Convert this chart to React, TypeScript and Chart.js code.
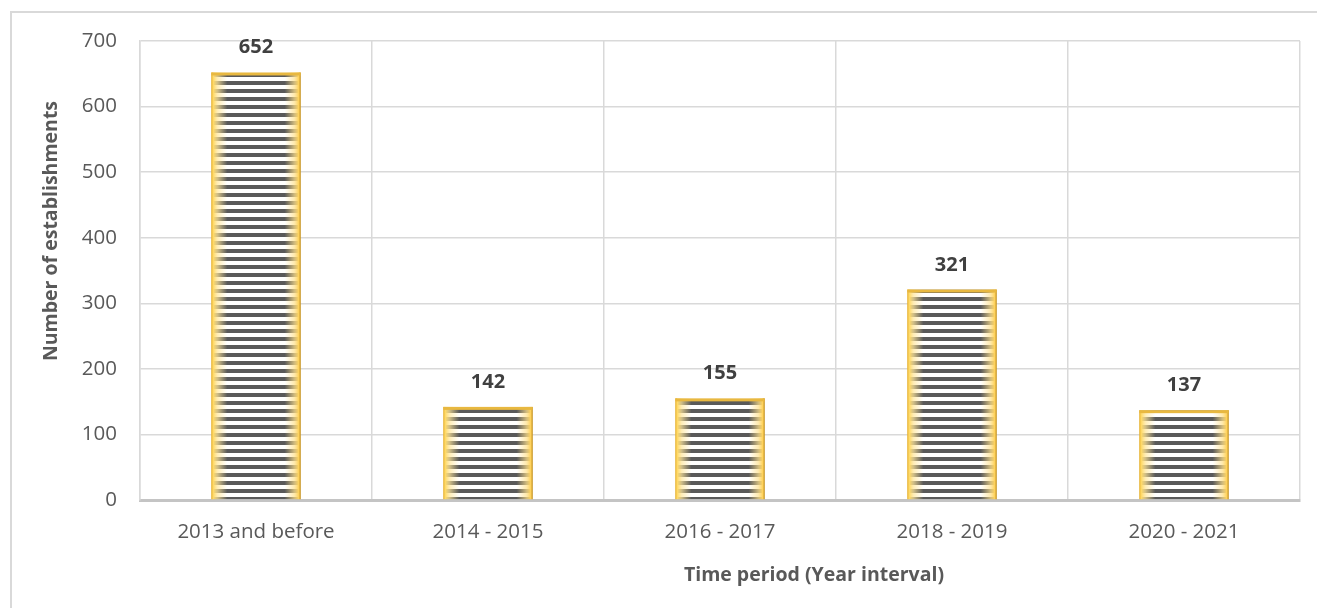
import React, { useEffect, useRef } from "react";
import { Chart, registerables } from "chart.js";

Chart.register(...registerables);

const periods = ["2013 and before", "2014 - 2015", "2016 - 2017", "2018 - 2019", "2020 - 2021"];
const establishments = [652, 142, 155, 321, 137];
const yTicks = [0, 100, 200, 300, 400, 500, 600, 700];
const xTitle = "Time period (Year interval)";
const yTitle = "Number of establishments";

const FONT = "'Open Sans', sans-serif";

function stripePattern(): CanvasPattern | string {
  const c = document.createElement("canvas");
  c.width = 8;
  c.height = 8;
  const ctx = c.getContext("2d");
  if (!ctx) return "#595959";
  ctx.fillStyle = "#ffffff";
  ctx.fillRect(0, 0, 8, 8);
  ctx.fillStyle = "#595959";
  ctx.fillRect(0, 1, 8, 4);
  return ctx.createPattern(c, "repeat") || "#595959";
}

// gold glow on bar sides, value labels, axis titles
const decorPlugin = {
  id: "decor",
  afterDatasetsDraw(chart: any) {
    const ctx = chart.ctx;
    const meta = chart.getDatasetMeta(0);
    meta.data.forEach((bar: any, i: number) => {
      const { x, y, base, width } = bar.getProps(["x", "y", "base", "width"], true);
      const l = x - width / 2;
      const r = x + width / 2;
      const h = base - y;
      const gw = 16;
      const gl = ctx.createLinearGradient(l, 0, l + gw, 0);
      gl.addColorStop(0, "rgba(230,178,50,1)");
      gl.addColorStop(0.12, "rgba(255,217,102,1)");
      gl.addColorStop(0.4, "rgba(255,230,153,0.7)");
      gl.addColorStop(1, "rgba(255,230,153,0)");
      ctx.fillStyle = gl;
      ctx.fillRect(l, y, gw, h);
      const gr = ctx.createLinearGradient(r, 0, r - gw, 0);
      gr.addColorStop(0, "rgba(190,140,30,1)");
      gr.addColorStop(0.12, "rgba(255,210,90,1)");
      gr.addColorStop(0.4, "rgba(255,225,140,0.7)");
      gr.addColorStop(1, "rgba(255,225,140,0)");
      ctx.fillStyle = gr;
      ctx.fillRect(r - gw, y, gw, h);
      ctx.fillStyle = "#e8b840";
      ctx.fillRect(l, y, width, 3);

      ctx.save();
      ctx.font = `bold 20px ${FONT}`;
      ctx.fillStyle = "#404040";
      ctx.textAlign = "center";
      ctx.textBaseline = "alphabetic";
      ctx.fillText(String(establishments[i]), x, y - 19);
      ctx.restore();
    });

    const area = chart.chartArea;
    ctx.save();
    ctx.font = `bold 19.5px ${FONT}`;
    ctx.fillStyle = "#595959";
    ctx.textAlign = "center";
    ctx.textBaseline = "alphabetic";
    ctx.fillText(xTitle, area.left + area.width * 0.581, area.bottom + 81);
    ctx.translate(57, area.top + area.height * 0.414);
    ctx.rotate(-Math.PI / 2);
    ctx.fillText(yTitle, 0, 0);
    ctx.restore();
  },
};

export default function App() {
  const canvasRef = useRef<HTMLCanvasElement | null>(null);

  useEffect(() => {
    if (!canvasRef.current) return;
    const chart = new Chart(canvasRef.current, {
      type: "bar",
      data: {
        labels: periods,
        datasets: [
          {
            data: establishments,
            backgroundColor: stripePattern() as any,
            borderColor: "#e8b840",
            borderWidth: { top: 0, left: 2, right: 2, bottom: 0 },
            borderSkipped: false,
            categoryPercentage: 1,
            barPercentage: 0.385,
          },
        ],
      },
      options: {
        animation: false,
        responsive: true,
        maintainAspectRatio: false,
        layout: { padding: { top: 41, right: 17, bottom: 0, left: 0 } },
        plugins: { legend: { display: false }, tooltip: { enabled: false } },
        scales: {
          x: {
            grid: { color: "#d9d9d9", lineWidth: 1.5, drawTicks: false, offset: true },
            border: { color: "#c4c4c4", width: 3 },
            ticks: { color: "#595959", font: { family: FONT, size: 20.5 }, padding: 20, maxRotation: 0 },
            afterFit: (s: any) => {
              s.height = 108;
            },
          },
          y: {
            min: 0,
            max: 700,
            afterBuildTicks: (s: any) => {
              s.ticks = yTicks.map((v) => ({ value: v }));
            },
            grid: { color: "#d9d9d9", lineWidth: 1.5, drawTicks: false },
            border: { color: "#d9d9d9", width: 1.5 },
            ticks: { color: "#595959", font: { family: FONT, size: 20.5 }, padding: 23 },
            afterFit: (s: any) => {
              s.width = 140;
            },
          },
        },
      },
      plugins: [decorPlugin],
    });
    return () => chart.destroy();
  }, []);

  return (
    <div style={{ position: "absolute", left: 0, top: 0, width: 1317, height: 608, overflow: "hidden", background: "#fff" }}>
      <div
        style={{
          position: "absolute",
          left: 10,
          top: 11,
          right: -10,
          bottom: -10,
          borderLeft: "2px solid #d9d9d9",
          borderTop: "2px solid #d9d9d9",
        }}
      />
      <div style={{ position: "absolute", left: 0, top: 0, width: 1317, height: 608 }}>
        <canvas ref={canvasRef} />
      </div>
    </div>
  );
}
